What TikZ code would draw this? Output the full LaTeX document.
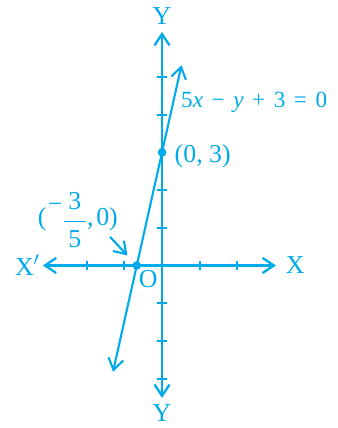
\documentclass[tikz,border=0pt]{standalone}
\usepackage{fontspec}
\setmainfont{Liberation Serif}
\usepackage{amsmath}
\usetikzlibrary{arrows.meta, positioning, calc}
\definecolor{mycyan}{RGB}{0,170,235}
\newcommand{\opsp}{\hspace{0.37em}}
\newcommand{\fpad}[1]{\hspace{0.17em}\text{#1}\hspace{0.17em}}
\tikzset{
  barb/.tip={Straight Barb[length=3mm, width=4mm]},
  axis/.style={barb-barb, line width=1.7pt, color=mycyan},
  graphline/.style={barb-barb, line width=1.6pt, color=mycyan},
  tick/.style={line width=1.5pt, color=mycyan},
  dot/.style={circle, fill=mycyan, inner sep=0pt, minimum size=2.3mm},
  lbl/.style={text=mycyan, inner sep=0pt, font=\fontsize{19.5}{22}\selectfont},
  pointer/.style={-barb, line width=1.6pt, color=mycyan, shorten >=2.4mm}
}

\begin{document}
\begin{tikzpicture}
  \useasboundingbox (-4.297,-4.31) rectangle (4.643,7.04);

  % Axes
  \coordinate (xl) at (-3.16,0);
  \coordinate (xr) at (3.02,0);
  \coordinate (yb) at (0,-3.51);
  \coordinate (yt) at (0,6.19);
  \draw[axis] (xl) -- (xr);
  \draw[axis] (yb) -- (yt);
  \foreach \x in {-2,-1,1,2}
    \draw[tick] (\x,-0.13) -- (\x,0.13);
  \foreach \y in {-3,-2,-1,1,2,4,5}
    \draw[tick] (-0.13,\y) -- (0.13,\y);

  % Axis labels
  \node[lbl, anchor=west] (X) at (3.28,0) {X};
  \node[lbl, anchor=east] (Xp) at (-3.24,0) {X$'$};
  \node[lbl] (Yt) at (0,6.62) {Y};
  \node[lbl] (Yb) at (0,-3.91) {Y};
  \node[lbl] (O) at (-0.37,-0.36) {O};

  % Points
  \node[dot] (pA) at (-0.67,0) {};
  \node[dot] (pB) at (0,3) {};
  \node[lbl, anchor=base west] (labB) at (0.33,2.72) {(0, 3)};
  \node[lbl, anchor=base west] (labA) at (-3.3,1.07)
    {(\hspace{0.05em}\raisebox{0.5em}{−}\raisebox{-2.5pt}{$\dfrac{\fpad{3}}{\fpad{5}}$},\hspace{0.1em}0)};

  % Line
  \draw[graphline] ($(pA)!-0.94!(pB)$) -- ($(pA)!1.77!(pB)$);
  \node[lbl, anchor=base west, font=\fontsize{17.5}{21}\selectfont] (eq) at (0.5,4.18)
    {5\textit{x}\opsp−\opsp\textit{y}\opsp+\opsp3\opsp=\opsp0};

  % Pointer
  \coordinate (ps) at (-1.38,0.76);
  \draw[pointer] (ps) -- (pA);
\end{tikzpicture}
\end{document}
